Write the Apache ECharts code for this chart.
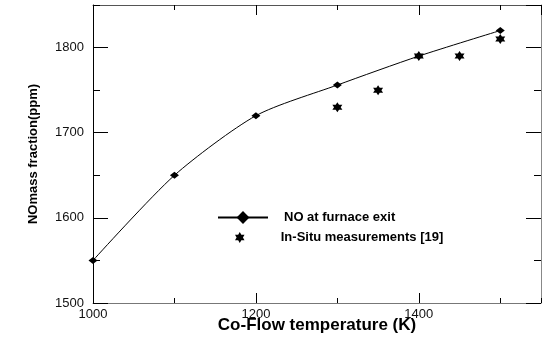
<!DOCTYPE html>
<html>
<head>
<meta charset="utf-8">
<script src="https://cdn.jsdelivr.net/npm/echarts@6/dist/echarts.min.js"></script>
<style>
  html, body { margin: 0; padding: 0; background: #fff; }
  #chart { width: 544px; height: 340px; }
</style>
</head>
<body>
<div id="chart"></div>
<script>
// data
var temps = [1000, 1100, 1200, 1300, 1400, 1500];
var noExit = [1550, 1650, 1720, 1756, 1790, 1820];
var situTemps = [1300, 1350, 1400, 1450, 1500];
var situVals = [1730, 1750, 1790, 1790, 1810];
var xLabels = [1000, 1200, 1400];
var yLabels = [1500, 1600, 1700, 1800];

// six pointed star
var star = 'path://M0,-10 L2.887,-5 L8.66,-5 L5.77,0 L8.66,5 L2.887,5 L0,10 L-2.887,5 L-8.66,5 L-5.77,0 L-8.66,-5 L-2.887,-5 Z';

var chart = echarts.init(document.getElementById('chart'), null, {renderer: 'canvas'});

var gridRect = {left: 93, right: 3, top: 5, bottom: 37, outerBoundsMode: 'none', containLabel: false};
var labelFont = {fontFamily: 'Liberation Sans, Arial, sans-serif', fontSize: 13, color: '#111'};

function xAx(grid, pos, interval, len, show, lineColor) {
    return {
        type: 'value', gridIndex: grid, position: pos, min: 1000, max: 1550, interval: interval,
        axisLine: {show: lineColor != null, onZero: false, lineStyle: {color: lineColor || '#000', width: 1}},
        axisTick: {show: true, inside: true, length: len, lineStyle: {color: '#000', width: 1}},
        axisLabel: Object.assign({
            show: show, margin: 5, showMaxLabel: false,
            formatter: function (v) { return xLabels.indexOf(v) >= 0 ? String(v) : ''; }
        }, labelFont),
        splitLine: {show: false}
    };
}
function yAx(grid, pos, interval, len, show, lineColor) {
    return {
        type: 'value', gridIndex: grid, position: pos, min: 1500, max: 1850, interval: interval,
        axisLine: {show: lineColor != null, onZero: false, lineStyle: {color: lineColor || '#000', width: 1}},
        axisTick: {show: true, inside: true, length: len, lineStyle: {color: '#000', width: 1}},
        axisLabel: Object.assign({
            show: show, margin: 9, showMaxLabel: false,
            formatter: function (v) { return yLabels.indexOf(v) >= 0 ? String(v) : ''; }
        }, labelFont),
        splitLine: {show: false}
    };
}

var xMain = xAx(0, 'bottom', 200, 10, true, '#777');
xMain.name = 'Co-Flow temperature (K)';
xMain.nameLocation = 'middle';
xMain.nameGap = 14;
xMain.nameMoveOverlap = false;
xMain.nameTextStyle = {fontFamily: 'Liberation Sans, Arial, sans-serif', fontWeight: 'bold', fontSize: 17, color: '#000'};

var yMain = yAx(0, 'left', 100, 15, true, '#000');
yMain.name = 'NOmass fraction(ppm)';
yMain.nameLocation = 'middle';
yMain.nameGap = 53;
yMain.nameMoveOverlap = false;
yMain.nameTextStyle = {fontFamily: 'Liberation Sans Narrow, Arial Narrow, sans-serif', fontWeight: 'bold', fontSize: 13, color: '#000'};

var legendText = {fontFamily: 'Liberation Sans, Arial, sans-serif', fontWeight: 'bold', fontSize: 13, color: '#000'};

var option = {
    animation: false,
    backgroundColor: '#fff',
    grid: [
        Object.assign({}, gridRect),
        Object.assign({}, gridRect)
    ],
    xAxis: [
        xMain,
        xAx(0, 'top', 200, 10, false, '#555'),
        xAx(1, 'bottom', 100, 5, false, null),
        xAx(1, 'top', 100, 5, false, null)
    ],
    yAxis: [
        yMain,
        yAx(0, 'right', 100, 15, false, '#888'),
        yAx(1, 'left', 50, 7, false, null),
        yAx(1, 'right', 50, 7, false, null)
    ],
    legend: [
        {
            data: ['NO at furnace exit'],
            left: 212, top: 206,
            itemWidth: 50, itemHeight: 16,
            textStyle: Object.assign({padding: [0, 0, 0, 11]}, legendText)
        },
        {
            data: ['In-Situ measurements [19]'],
            left: 230, top: 226,
            itemWidth: 12, itemHeight: 11,
            textStyle: Object.assign({padding: [0, 0, 0, 30]}, legendText)
        }
    ],
    series: [
        {
            name: 'NO at furnace exit',
            type: 'line',
            xAxisIndex: 0, yAxisIndex: 0,
            smooth: 0.25,
            data: temps.map(function (t, i) { return [t, noExit[i]]; }),
            symbol: 'diamond',
            symbolSize: [9, 7],
            lineStyle: {color: '#000', width: 1},
            itemStyle: {color: '#000'}
        },
        {
            name: 'In-Situ measurements [19]',
            type: 'scatter',
            xAxisIndex: 0, yAxisIndex: 0,
            data: situTemps.map(function (t, i) { return [t, situVals[i]]; }),
            symbol: star,
            symbolSize: [10, 10],
            itemStyle: {color: '#000', opacity: 1}
        }
    ]
};

chart.setOption(option);
</script>
</body>
</html>
